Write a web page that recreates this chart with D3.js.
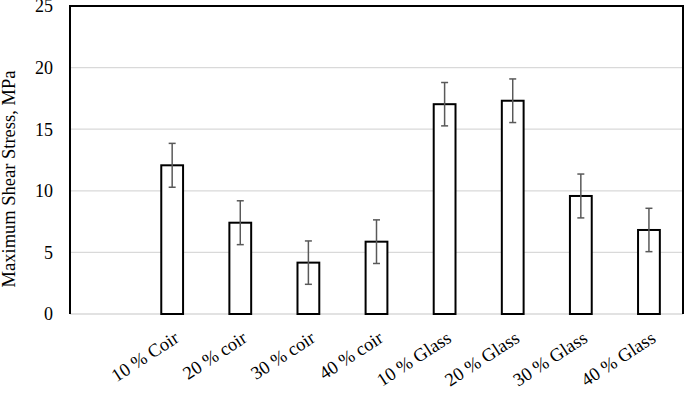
<!DOCTYPE html>
<html>
<head>
<meta charset="utf-8">
<script src="https://cdn.jsdelivr.net/npm/d3@7"></script>
<style>
  body { margin: 0; background: #fff; }
  text { font-family: "Liberation Serif", "Times New Roman", serif; fill: #000; }
</style>
</head>
<body>
<div id="chart"></div>
<script>
// data
const categories = ["", "10 % Coir", "20 % coir", "30 % coir", "40 % coir", "10 % Glass", "20 % Glass", "30 % Glass", "40 % Glass"];
const shearMeans = [null, 12.07, 7.41, 4.17, 5.87, 17.03, 17.31, 9.58, 6.82];
const shearErrors = [null, 1.78, 1.78, 1.76, 1.77, 1.76, 1.77, 1.78, 1.76];
const yTicks = [0, 5, 10, 15, 20, 25];

const width = 685, height = 393;
const margin = {top: 6, right: 2, bottom: 79, left: 70};
const innerW = width - margin.left - margin.right;
const innerH = height - margin.top - margin.bottom;

const svg = d3.select("#chart").append("svg")
    .attr("width", width)
    .attr("height", height);

const g = svg.append("g")
    .attr("transform", "translate(" + margin.left + "," + margin.top + ")");

const x = d3.scaleBand()
    .domain(categories)
    .range([0, innerW])
    .paddingInner(0.68)
    .paddingOuter(0.34);

const y = d3.scaleLinear()
    .domain([0, 25])
    .range([innerH, 0]);

// gridlines
g.selectAll(".grid")
    .data(yTicks)
    .enter().append("line")
    .attr("x1", 0)
    .attr("x2", innerW)
    .attr("y1", d => y(d))
    .attr("y2", d => y(d))
    .attr("stroke", "#d9d9d9")
    .attr("stroke-width", 1.3);

// y tick labels
g.selectAll(".ylab")
    .data(yTicks)
    .enter().append("text")
    .attr("x", -17)
    .attr("y", d => y(d))
    .attr("dy", "0.35em")
    .attr("text-anchor", "end")
    .style("font-size", "18px")
    .text(d => d);

// border (top, left, right); bottom stays grey
g.append("path")
    .attr("d", "M0," + innerH + "V0H" + innerW + "V" + innerH)
    .attr("fill", "none")
    .attr("stroke", "#000")
    .attr("stroke-width", 2);

const rows = categories.map((c, i) => ({cat: c, v: shearMeans[i], e: shearErrors[i]}))
    .filter(d => d.v !== null);

// bars
g.selectAll(".bar")
    .data(rows)
    .enter().append("rect")
    .attr("x", d => x(d.cat))
    .attr("y", d => y(d.v))
    .attr("width", x.bandwidth())
    .attr("height", d => innerH - y(d.v))
    .attr("fill", "#fff")
    .attr("stroke", "#000")
    .attr("stroke-width", 2);

// error bars
const err = g.selectAll(".err")
    .data(rows)
    .enter().append("g")
    .attr("transform", d => "translate(" + (x(d.cat) + x.bandwidth() / 2) + ",0)")
    .attr("stroke", "#595959")
    .attr("stroke-width", 1.5);

err.append("line")
    .attr("y1", d => y(d.v + d.e))
    .attr("y2", d => y(d.v - d.e));
err.append("line")
    .attr("x1", -3.5).attr("x2", 3.5)
    .attr("y1", d => y(d.v + d.e))
    .attr("y2", d => y(d.v + d.e));
err.append("line")
    .attr("x1", -3.5).attr("x2", 3.5)
    .attr("y1", d => y(d.v - d.e))
    .attr("y2", d => y(d.v - d.e));

// x labels, rotated
g.selectAll(".xlab")
    .data(categories.filter(c => c !== ""))
    .enter().append("text")
    .attr("transform", d => "translate(" + (x(d) + x.bandwidth() / 2 + 8) + "," + (innerH + 27) + ") rotate(-33)")
    .attr("text-anchor", "end")
    .style("font-size", "18.5px")
    .text(d => d);

// y axis title
svg.append("text")
    .attr("transform", "translate(15,179) rotate(-90)")
    .attr("text-anchor", "middle")
    .style("font-size", "18.5px")
    .text("Maximum Shear Stress, MPa");
</script>
</body>
</html>
